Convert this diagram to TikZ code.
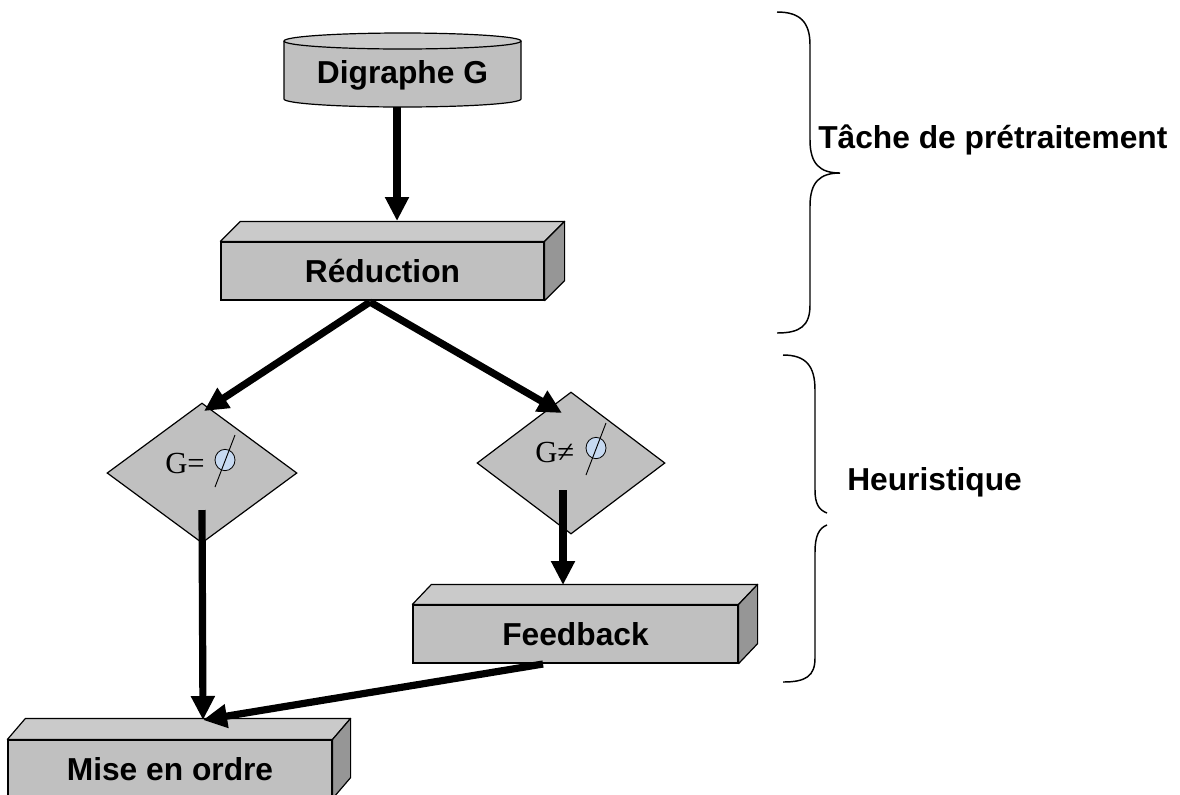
\documentclass[tikz,border=0pt]{standalone}
\usepackage{fontspec}
\setmainfont{Liberation Serif}
\newfontfamily\labelsans{Liberation Sans}
\usetikzlibrary{arrows.meta,shapes.geometric}
\definecolor{facegray}{HTML}{C0C0C0}
\definecolor{topgray}{HTML}{CACACA}
\definecolor{sidegray}{HTML}{969696}
\definecolor{emptyblue}{HTML}{C6D9F1}
\newcommand\lbl{\labelsans\bfseries\fontsize{23.8}{28}\selectfont}
\newcommand\condfont{\fontsize{23}{27}\selectfont}
% top and right faces of a block, drawn behind its front face
\newcommand\blockdepth[3]{%
  \filldraw[fill=topgray,line width=0.9pt,line join=round]
    (#1.north west) -- ++(#2,-#3) -- ([shift={(#2,-#3)}]#1.north east) -- (#1.north east) -- cycle;
  \filldraw[fill=sidegray,line width=0.9pt,line join=round]
    (#1.north east) -- ++(#2,-#3) -- ([shift={(#2,-#3)}]#1.south east) -- (#1.south east) -- cycle;}
% an empty-set sign drawn as a tinted circle with a stroke
\newcommand\emptysign[2]{%
  \filldraw[fill=emptyblue,line width=0.6pt] (#1,#2) ellipse[x radius=7.5pt,y radius=8pt];
  \draw[line width=0.7pt] ([shift={(10,-25)}]#1,#2) -- ([shift={(-10,27)}]#1,#2);}
\tikzset{
  block/.style={draw,fill=facegray,line width=0.9pt,inner sep=0pt,font=\lbl,
    minimum height=43.5pt},
  decision/.style={diamond,draw,fill=facegray,line width=0.9pt,inner sep=0pt},
  cond/.style={anchor=base west,inner sep=0pt,font=\condfont},
  arr/.style={line width=5.4pt,-{Triangle[length=18pt,width=17pt]}},
  brace/.style={line width=1.1pt},
  side/.style={font=\lbl,anchor=west,inner sep=0pt}
}
\begin{document}
\begin{tikzpicture}[x=0.75pt,y=-0.75pt]
\useasboundingbox (0,0) rectangle (1180,794);

% input graph as a cylinder
\fill[facegray] (284,41) -- (284,99) arc[start angle=180,end angle=360,x radius=88.875pt,y radius=6pt] -- (521,41) -- cycle;
\draw[line width=0.9pt] (284,41) -- (284,99) arc[start angle=180,end angle=360,x radius=88.875pt,y radius=6pt] -- (521,41);
\filldraw[fill=topgray,line width=0.9pt] (402.5,41) ellipse[x radius=88.875pt,y radius=6pt];
\node[font=\lbl] (dg) at (402.5,75) {Digraphe G};

% processing blocks
\node[block,minimum width=242.25pt] (red) at (382.5,271) {};
\blockdepth{red}{20}{20}
\node[block,minimum width=242.25pt] (red) at (382.5,271) {Réduction};

\node[block,minimum width=243.75pt] (fb) at (575.5,634) {};
\blockdepth{fb}{19}{20}
\node[block,minimum width=243.75pt] (fb) at (575.5,634) {Feedback};

\node[block,minimum width=243pt] (mo) at (170,769) {};
\blockdepth{mo}{18}{21}
\node[block,minimum width=243pt] (mo) at (170,769) {Mise en ordre};

% decisions
\node[decision,minimum width=142.5pt,minimum height=105pt] (dl) at (202,473) {};
\node[cond] (tl) at (165,473) {G=};
\emptysign{225}{460}
\node[decision,minimum width=141pt,minimum height=106.5pt] (dr) at (571,463) {};
\node[cond] (tr) at (535,462) {G≠};
\emptysign{596}{448}

% connection points
\coordinate (dgout) at (397,107);
\coordinate (redin) at (397,221);
\coordinate (redout) at (370,302);
\coordinate (dlin) at (204,411);
\coordinate (drin) at (562,413);
\coordinate (dlout) at (202,510);
\coordinate (drout) at (563,490);
\coordinate (fbin) at (563,585);
\coordinate (fbout) at (543,664);
\coordinate (moin) at (203,720);

\draw[arr] (dgout) -- (redin);
\draw[arr] (redout) -- (dlin);
\draw[arr] (redout) -- (drin);
\draw[arr] (dlout) -- (moin);
\draw[arr] (drout) -- (fbin);
\draw[arr] (fbout) -- (moin);

% phase braces
\draw[brace] (777,12) .. controls (800,12) and (810,22) .. (810,45) -- (810,140)
  .. controls (810,164) and (820,173) .. (840,173)
  .. controls (820,173) and (810,182) .. (810,206) -- (810,305)
  .. controls (810,326) and (800,333) .. (777,333);
\node[side] (pre) at (818,140) {Tâche de prétraitement};

\draw[brace] (783,355) .. controls (806,355) and (815,366) .. (815,390) -- (815,490)
  .. controls (815,504) and (819,510) .. (827,513);
\draw[brace] (827,525) .. controls (819,528) and (815,536) .. (815,552) -- (815,658)
  .. controls (815,676) and (806,682) .. (783,682);
\node[side] (heu) at (847,482) {Heuristique};
\end{tikzpicture}
\end{document}
